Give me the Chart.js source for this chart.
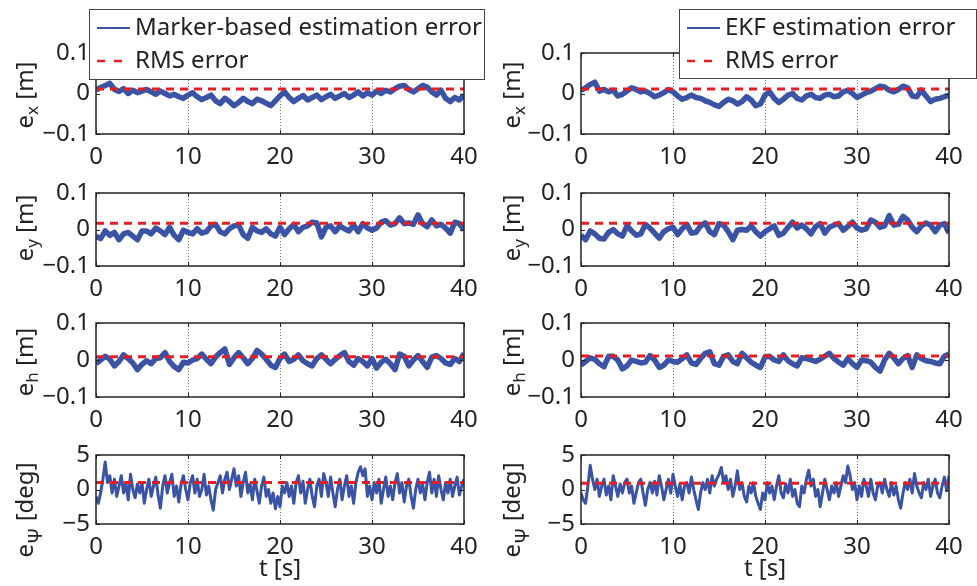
<!DOCTYPE html>
<html>
<head>
<meta charset="utf-8">
<script src="https://cdn.jsdelivr.net/npm/chart.js@4.4.1/dist/chart.umd.min.js"></script>
<style>
  html, body { margin: 0; padding: 0; background: #fff; }
  #fig { position: relative; width: 977px; height: 586px; overflow: hidden; }
  #fig canvas { position: absolute; }
</style>
</head>
<body>
<div id="fig"></div>
<script>
// sample spacing of the read-off series (s)
const dtPos = 0.5;
const dtYaw = 0.25;

const xTicks = [0, 10, 20, 30, 40];
const yTicksPos = [-0.1, 0, 0.1];
const yTicksYaw = [-5, 0, 5];

const legendLeft = ['Marker-based estimation error', 'RMS error'];
const legendRight = ['EKF estimation error', 'RMS error'];

// RMS levels, rows x, y, h, psi
const rmsLeft = [0.011, 0.017, 0.009, 1.0];
const rmsRight = [0.011, 0.017, 0.011, 0.9];

// e_x [m], marker-based (every 0.5 s)
const exLeft = [
  0.008, 0.015, 0.020, 0.025, 0.010, 0.005, 0.012, 0.000, 0.008, 0.002,
  0.006, 0.010, 0.004, -0.002, 0.006, 0.000, -0.006, -0.002, -0.008, -0.012,
  -0.004, 0.002, -0.008, -0.015, -0.010, -0.004, -0.018, -0.025, -0.012, -0.020,
  -0.030, -0.022, -0.012, -0.020, -0.025, -0.014, -0.018, -0.024, -0.030, -0.018,
  -0.006, 0.004, -0.010, -0.020, -0.012, -0.005, -0.016, -0.010, -0.004, -0.015,
  -0.008, -0.002, -0.012, -0.006, 0.000, -0.010, -0.004, 0.004, -0.006, 0.002,
  -0.004, 0.006, 0.000, 0.008, 0.004, 0.012, 0.018, 0.020, 0.010, 0.004,
  0.012, 0.020, 0.016, 0.004, -0.004, 0.008, -0.012, -0.020, -0.010, -0.016,
  -0.004
];
// e_x [m], EKF
const exRight = [
  0.008, 0.014, 0.022, 0.028, 0.006, 0.010, 0.004, 0.008, -0.006, -0.002,
  0.006, 0.014, 0.010, 0.004, 0.006, 0.000, -0.008, -0.004, 0.002, 0.010,
  0.004, -0.006, -0.014, -0.010, -0.004, -0.010, -0.012, -0.018, -0.022, -0.028,
  -0.032, -0.022, -0.014, -0.018, -0.026, -0.020, -0.008, -0.016, -0.030, -0.026,
  -0.004, 0.004, -0.012, -0.022, -0.014, -0.004, 0.000, -0.012, -0.016, -0.006,
  -0.002, -0.010, -0.012, -0.004, -0.002, -0.008, -0.006, 0.004, 0.008, 0.000,
  -0.010, -0.004, 0.002, 0.006, 0.012, 0.018, 0.016, 0.008, 0.004, 0.010,
  0.018, 0.014, -0.006, -0.008, 0.008, -0.006, -0.020, -0.014, -0.012, -0.008,
  -0.004
];
// e_y [m]
const eyLeft = [
  -0.018, -0.025, -0.004, -0.016, -0.008, -0.028, -0.012, -0.008, -0.018, -0.028,
  -0.004, -0.004, -0.012, 0.004, -0.004, -0.014, 0.006, -0.016, -0.028, -0.002,
  -0.008, -0.012, 0.002, -0.010, -0.006, 0.010, 0.014, -0.006, -0.012, 0.002,
  0.010, 0.012, -0.014, -0.024, 0.006, -0.004, -0.008, 0.002, -0.012, -0.018,
  0.006, -0.014, 0.002, 0.014, -0.006, 0.006, 0.010, 0.020, 0.018, -0.020,
  0.006, 0.010, -0.006, 0.010, 0.002, -0.004, 0.012, -0.006, 0.016, 0.004,
  -0.002, 0.004, 0.020, 0.024, 0.012, 0.016, 0.032, 0.016, 0.018, 0.014,
  0.040, 0.016, 0.008, 0.026, 0.010, 0.014, 0.004, -0.010, 0.020, 0.016,
  -0.002
];
const eyRight = [
  -0.016, -0.028, -0.004, -0.012, -0.024, -0.026, -0.008, 0.000, -0.012, -0.018,
  0.010, -0.004, -0.016, -0.012, 0.014, 0.004, -0.010, -0.024, -0.006, 0.002,
  0.006, -0.014, 0.002, 0.014, -0.010, -0.008, 0.010, 0.018, -0.006, -0.014,
  0.016, 0.012, -0.006, -0.028, -0.002, 0.000, -0.002, 0.010, -0.006, -0.018,
  -0.006, 0.002, 0.010, -0.016, -0.010, 0.006, 0.020, 0.004, 0.012, 0.002,
  -0.012, 0.008, 0.016, -0.010, 0.006, 0.012, 0.016, -0.002, 0.008, 0.020,
  0.004, -0.002, 0.002, 0.026, 0.020, 0.006, 0.010, 0.038, 0.012, 0.014,
  0.036, 0.026, 0.006, -0.006, 0.010, 0.018, 0.012, -0.006, 0.012, 0.016,
  -0.010
];
// e_h [m]
const ehLeft = [
  -0.010, 0.000, 0.010, 0.002, -0.016, -0.004, 0.014, 0.004, -0.008, -0.026,
  -0.012, -0.002, -0.010, 0.004, 0.006, 0.020, -0.004, -0.018, -0.026, -0.006,
  -0.008, 0.000, 0.004, 0.016, 0.002, -0.010, 0.008, 0.020, 0.030, -0.012,
  0.006, 0.020, 0.006, -0.010, 0.004, 0.026, 0.016, 0.002, -0.014, -0.020,
  0.004, 0.016, -0.004, 0.002, 0.014, -0.002, -0.010, -0.016, 0.004, 0.014,
  0.002, -0.010, 0.002, 0.012, 0.020, -0.004, -0.014, 0.004, -0.004, -0.016,
  0.004, -0.022, -0.006, 0.002, -0.010, -0.026, 0.016, 0.010, -0.016, 0.000,
  0.012, -0.004, -0.020, 0.008, 0.012, 0.004, -0.008, -0.012, 0.004, -0.004,
  0.018
];
const ehRight = [
  -0.014, -0.004, 0.006, 0.002, -0.010, -0.018, 0.010, 0.010, 0.000, -0.024,
  -0.016, 0.000, -0.004, -0.008, -0.006, 0.012, 0.000, -0.020, -0.014, 0.000,
  -0.004, -0.006, 0.004, 0.014, -0.008, -0.012, 0.004, 0.018, 0.022, -0.010,
  -0.014, 0.010, 0.014, -0.004, -0.010, 0.018, 0.006, -0.006, -0.014, -0.020,
  0.008, 0.010, 0.000, -0.004, 0.014, -0.002, -0.010, -0.016, 0.006, 0.004,
  0.000, -0.004, 0.002, 0.010, 0.018, 0.004, -0.006, -0.014, 0.004, -0.010,
  -0.020, 0.000, -0.002, -0.006, -0.020, -0.030, 0.000, 0.018, 0.006, -0.010,
  0.004, 0.012, -0.020, 0.014, 0.004, -0.002, -0.004, -0.008, -0.010, 0.010,
  0.016
];
// e_psi [deg] (every 0.25 s)
const epLeft = [
  -1.0, -2.0, -0.5, 1.5, 4.0, 1.0, 2.0, -0.5,
  1.5, -1.0, 0.5, 2.0, -0.5, 1.0, -1.5, 2.2,
  0.0, -1.2, 0.8, -0.5, 1.0, -2.0, 0.0, 1.5,
  -1.0, 0.5, 1.8, -0.8, -2.7, 0.5, 2.0, -0.5,
  1.0, 2.2, -1.0, 0.5, -1.8, 0.8, 2.0, 0.0,
  -1.5, 1.0, 2.0, -0.5, 1.5, -1.0, 0.0, 2.2,
  -0.8, 0.5, -1.5, -3.0, 0.0, 1.0, 2.0, -0.5,
  1.5, 2.5, 0.0, 1.5, 3.0, 0.5, 2.0, -1.0,
  1.0, 2.5, -0.5, 0.8, -1.5, 1.5, -0.2, -2.0,
  0.5, 1.8, -1.0, 0.0, -2.0, -0.5, -2.8, -1.0,
  -2.5, 0.5, -0.5, 1.0, -1.0, 0.5, -2.0, 1.0,
  2.0, -0.5, 1.2, -2.0, 0.0, 1.5, -1.0, -2.5,
  0.5, 1.5, -1.0, 2.3, 1.0, -1.0, 1.8, -0.5,
  -2.5, 0.0, 1.5, -1.5, 0.5, 2.0, -1.0, 0.5,
  -2.0, 1.0, 2.5, 3.3, 2.0, 3.0, -1.0, 0.5,
  -1.5, 1.0, -0.5, 1.5, -2.0, 0.0, 1.8, -1.0,
  0.5, -1.5, 1.0, 2.3, -0.5, 1.0, -1.8, 0.5,
  1.5, -1.0, -2.7, 0.0, 1.5, -0.5, 0.8, -1.5,
  1.0, 2.5, -0.5, 1.5, -1.0, 2.0, 0.0, -1.5,
  1.0, -0.5, 1.5, -1.0, 0.5, 1.8, -0.8, 0.5,
  1.5
];
const epRight = [
  -0.5, -1.5, -2.0, 0.5, 3.5, 1.5, 0.0, 1.5,
  -1.0, 0.5, 1.5, -0.8, 0.5, -1.5, 2.0, 0.5,
  -1.0, 0.8, -0.5, 1.0, 1.5, -0.5, 0.5, -2.0,
  -0.5, 1.0, 1.5, -0.5, -2.3, 0.0, 1.0, -0.5,
  1.2, -0.8, 2.0, 0.5, -1.5, 0.0, 1.5, -0.5,
  2.2, 0.5, -1.0, 0.8, -1.5, 0.5, 1.0, -0.5,
  1.8, 0.0, -1.5, -2.9, -0.5, 1.0, 0.0, 1.5,
  -0.5, 2.0, 0.5, 1.5, 2.2, 3.2, 1.0, 2.0,
  0.0, 1.5, -1.0, 0.5, 2.7, 0.0, 1.0, -1.0,
  -1.8, 0.5, -0.5, 1.0, -1.0, -2.0, -2.9, -0.5,
  -1.5, 1.0, -0.5, 0.5, -1.5, 0.5, 2.0, -0.5,
  -1.2, 0.8, -0.5, 1.5, -1.0, 0.0, -2.0, -2.5,
  0.5, -0.5, 1.5, 2.8, 0.5, 1.5, -1.0, 0.0,
  -2.5, -0.5, 1.5, 0.0, -1.5, 0.5, -0.5, 1.0,
  -1.0, 0.5, 2.0, 1.0, 3.4, 2.0, 0.0, 1.0,
  -1.5, 0.5, -1.0, 1.5, 0.5, -1.0, 1.5, -0.5,
  -1.5, 0.5, 1.0, -0.5, 1.5, 0.0, -1.0, 1.0,
  -0.8, 0.5, -1.5, -2.7, -0.5, 1.0, 0.0, 1.5,
  -0.5, 2.3, 0.5, -0.5, -1.2, 1.0, 0.0, 1.5,
  -1.0, 0.5, 1.5, -0.5, -1.2, 0.5, 1.8, -0.2,
  2.0
];

const BLUE = '#3a53a4';
const RED = '#e31e24';
const INK = '#222222';
const FONT = '"Noto Sans", "Open Sans", sans-serif';

const cols = [
  { left: 0, width: 490, yw: 96, padR: 26, titleX: 33, legend: { x: 89, y: 9, w: 396, h: 71, labels: legendLeft } },
  { left: 490, width: 487, yw: 91, padR: 28, titleX: 30, legend: { x: 189, y: 9, w: 298, h: 70, labels: legendRight } }
];
const rows = [
  { top: 0, height: 179, padTop: 53, xh: 45, titleY: 95, sub: 'x', subSize: 17, unit: ' [m]', subDy: 5, ticks: yTicksPos, lim: 0.1, dt: dtPos, lw: 5.5 },
  { top: 163, height: 148, padTop: 30, xh: 45, titleY: 228, sub: 'y', subSize: 17, unit: ' [m]', subDy: 5, ticks: yTicksPos, lim: 0.1, dt: dtPos, lw: 5.5 },
  { top: 293, height: 149, padTop: 30, xh: 45, titleY: 362, sub: 'h', subSize: 17, unit: ' [m]', subDy: 5, ticks: yTicksPos, lim: 0.1, dt: dtPos, lw: 5.5 },
  { top: 425, height: 161, padTop: 30, xh: 62, titleY: 510, sub: '\u03A8', subSize: 20, unit: ' [deg]', subDy: 9, ticks: yTicksYaw, lim: 5, dt: dtYaw, lw: 3 }
];
const series = [
  [exLeft, exRight],
  [eyLeft, eyRight],
  [ehLeft, ehRight],
  [epLeft, epRight]
];
const rms = [rmsLeft, rmsRight];

function fmtTick(v) {
  if (v === 0) return '0';
  return v < 0 ? '\u2212' + String(-v) : String(v);
}

function drawYTitle(ctx, x, y, row) {
  const fMain = '24px ' + FONT, fSub = row.subSize + 'px ' + FONT;
  ctx.save();
  ctx.translate(x, y);
  ctx.rotate(-Math.PI / 2);
  ctx.fillStyle = INK;
  ctx.textAlign = 'left';
  ctx.textBaseline = 'alphabetic';
  ctx.font = fMain;
  const w1 = ctx.measureText('e').width;
  const w3 = ctx.measureText(row.unit).width;
  ctx.font = fSub;
  const w2 = ctx.measureText(row.sub).width;
  let cx = -(w1 + w2 + w3) / 2;
  ctx.font = fMain; ctx.fillText('e', cx, 0); cx += w1;
  ctx.font = fSub; ctx.fillText(row.sub, cx, row.subDy); cx += w2;
  ctx.font = fMain; ctx.fillText(row.unit, cx, 0);
  ctx.restore();
}

function drawLegend(ctx, lg) {
  ctx.save();
  ctx.fillStyle = '#fff';
  ctx.fillRect(lg.x, lg.y, lg.w, lg.h);
  ctx.strokeStyle = '#444';
  ctx.lineWidth = 1;
  ctx.strokeRect(lg.x + 0.5, lg.y + 0.5, lg.w - 1, lg.h - 1);
  const x0 = lg.x + 8, x1 = lg.x + 41;
  const rowY = [lg.y + 19, lg.y + 52];
  ctx.lineWidth = 2;
  ctx.strokeStyle = BLUE;
  ctx.beginPath(); ctx.moveTo(x0, rowY[0]); ctx.lineTo(x1, rowY[0]); ctx.stroke();
  ctx.lineWidth = 2.5;
  ctx.strokeStyle = RED;
  ctx.setLineDash([8, 9]);
  ctx.beginPath(); ctx.moveTo(x0, rowY[1]); ctx.lineTo(x1, rowY[1]); ctx.stroke();
  ctx.setLineDash([]);
  ctx.fillStyle = INK;
  ctx.font = '24px ' + FONT;
  ctx.textBaseline = 'middle';
  ctx.textAlign = 'left';
  lg.labels.forEach((t, i) => ctx.fillText(t, lg.x + 46, rowY[i]));
  ctx.restore();
}

function decoPlugin(row, col, ri) {
  return {
    id: 'deco' + ri,
    afterDatasetsDraw(chart) {
      const { ctx, chartArea: a, scales } = chart;
      ctx.save();
      ctx.strokeStyle = INK;
      ctx.lineWidth = 1;
      ctx.beginPath();
      scales.x.ticks.forEach(t => {
        const px = Math.round(scales.x.getPixelForValue(t.value)) + 0.5;
        ctx.moveTo(px, a.bottom); ctx.lineTo(px, a.bottom - 4);
        ctx.moveTo(px, a.top); ctx.lineTo(px, a.top + 4);
      });
      scales.y.ticks.forEach(t => {
        const py = Math.round(scales.y.getPixelForValue(t.value)) + 0.5;
        ctx.moveTo(a.left, py); ctx.lineTo(a.left + 4, py);
        ctx.moveTo(a.right, py); ctx.lineTo(a.right - 4, py);
      });
      ctx.stroke();
      ctx.lineWidth = 1.5;
      ctx.strokeRect(a.left, a.top, a.right - a.left, a.bottom - a.top);
      ctx.restore();
    },
    afterDraw(chart) {
      const { ctx, chartArea: a } = chart;
      drawYTitle(ctx, col.titleX, row.titleY - row.top, row);
      if (ri === 3) {
        ctx.save();
        ctx.fillStyle = INK;
        ctx.font = '24px ' + FONT;
        ctx.textAlign = 'center';
        ctx.textBaseline = 'middle';
        ctx.fillText('t [s]', (a.left + a.right) / 2, 569 - row.top);
        ctx.restore();
      }
      if (ri === 0) drawLegend(ctx, col.legend);
    }
  };
}

function makeChart(ri, ci) {
  const row = rows[ri], col = cols[ci];
  const canvas = document.createElement('canvas');
  canvas.width = col.width;
  canvas.height = row.height;
  canvas.style.left = col.left + 'px';
  canvas.style.top = row.top + 'px';
  canvas.style.width = col.width + 'px';
  canvas.style.height = row.height + 'px';
  document.getElementById('fig').appendChild(canvas);

  const vals = series[ri][ci];
  const r = rms[ci][ri];
  const pts = vals.map((v, i) => ({ x: i * row.dt, y: v }));
  const tickFont = { family: FONT, size: 24 };

  new Chart(canvas, {
    type: 'line',
    data: {
      datasets: [
        {
          label: 'RMS error',
          data: [{ x: xTicks[0], y: r }, { x: xTicks[xTicks.length - 1], y: r }],
          borderColor: RED,
          borderWidth: 3,
          borderDash: [8, 6],
          pointRadius: 0,
          order: 0,
          clip: 0
        },
        {
          label: 'error',
          data: pts,
          borderColor: BLUE,
          borderWidth: row.lw,
          borderJoinStyle: 'round',
          pointRadius: 0,
          tension: 0,
          order: 1,
          clip: 0
        }
      ]
    },
    options: {
      responsive: false,
      animation: false,
      devicePixelRatio: 1,
      layout: { padding: { top: row.padTop, right: col.padR, bottom: 0, left: 0 } },
      plugins: { legend: { display: false }, tooltip: { enabled: false } },
      scales: {
        x: {
          type: 'linear',
          min: xTicks[0],
          max: xTicks[xTicks.length - 1],
          afterBuildTicks: s => { s.ticks = xTicks.map(v => ({ value: v })); },
          afterFit: s => { s.height = row.xh; },
          ticks: { font: tickFont, color: INK, padding: 9, maxRotation: 0, autoSkip: false },
          grid: {
            drawTicks: false,
            lineWidth: 1,
            color: c => (c.tick && c.tick.value > xTicks[0] && c.tick.value < xTicks[xTicks.length - 1]) ? '#7a7a7a' : 'rgba(0,0,0,0)'
          },
          border: { display: false, dash: [1, 2] }
        },
        y: {
          type: 'linear',
          min: -row.lim,
          max: row.lim,
          afterBuildTicks: s => { s.ticks = row.ticks.map(v => ({ value: v })); },
          afterFit: s => { s.width = col.yw; },
          ticks: { font: tickFont, color: INK, padding: 6, autoSkip: false, callback: v => fmtTick(v) },
          grid: { display: false, drawTicks: false },
          border: { display: false }
        }
      }
    },
    plugins: [decoPlugin(row, col, ri)]
  });
}

function init() {
  for (let ri = 0; ri < rows.length; ri++) {
    for (let ci = 0; ci < cols.length; ci++) makeChart(ri, ci);
  }
}

if (document.fonts && document.fonts.load) {
  document.fonts.load('24px "Noto Sans"').then(init, init);
} else {
  init();
}
</script>
</body>
</html>
